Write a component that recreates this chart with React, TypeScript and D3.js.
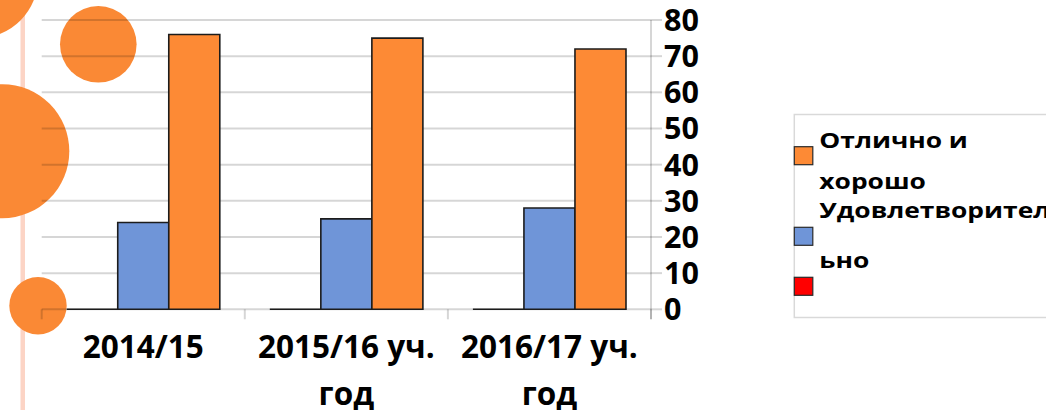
import React, { useEffect, useRef } from 'react'
import * as d3 from 'd3'

// chart data
const categories = ['2014/15', '2015/16 уч.\nгод', '2016/17 уч.\nгод']
const seriesNames = ['', 'Удовлетворител\nьно', 'Отлично и\nхорошо']
const seriesColors = ['#ff0000', '#6f95d8', '#fd8a35']
const redValues = [0, 0, 0]
const blueValues = [24, 25, 28]
const orangeValues = [76, 75, 72]
const yTicks = [0, 10, 20, 30, 40, 50, 60, 70, 80]

const W = 1046
const H = 410
const FONT = '"Open Sans", "Liberation Sans", sans-serif'

const App: React.FC = () => {
  const svgRef = useRef<SVGSVGElement>(null)

  useEffect(() => {
    if (!svgRef.current) return
    const svg = d3.select(svgRef.current)
    svg.selectAll('*').remove()

    const plot = { left: 41.7, right: 651, top: 20, bottom: 309.3 }
    const values = [redValues, blueValues, orangeValues]

    const x0 = d3.scaleBand<number>()
      .domain(d3.range(categories.length))
      .range([plot.left, plot.right])
      .padding(0)
    const x1 = d3.scaleBand<number>()
      .domain(d3.range(values.length))
      .range([0, x0.bandwidth()])
      .paddingInner(0)
      .paddingOuter(0.49)
    const y = d3.scaleLinear().domain([0, 80]).range([plot.bottom, plot.top])

    // slide decorations
    svg.append('rect')
      .attr('x', 20.5).attr('y', 0)
      .attr('width', 4.5).attr('height', H)
      .attr('fill', '#fcd4c5')

    const circles = [
      { cx: -22, cy: -22, r: 60 },
      { cx: 98.3, cy: 44.3, r: 38.3 },
      { cx: 2.3, cy: 151.2, r: 67 },
      { cx: 38, cy: 305.8, r: 28.7 }
    ]
    svg.selectAll('.deco')
      .data(circles)
      .enter()
      .append('circle')
      .attr('class', 'deco')
      .attr('cx', d => d.cx)
      .attr('cy', d => d.cy)
      .attr('r', d => d.r)
      .attr('fill', '#fa8935')

    // gridlines
    svg.selectAll('.grid')
      .data(yTicks)
      .enter()
      .append('line')
      .attr('class', 'grid')
      .attr('x1', plot.left)
      .attr('x2', plot.right)
      .attr('y1', d => y(d))
      .attr('y2', d => y(d))
      .attr('stroke', 'rgba(0,0,0,0.16)')
      .attr('stroke-width', 2)

    // right axis
    svg.append('line')
      .attr('x1', plot.right).attr('x2', plot.right)
      .attr('y1', y(80)).attr('y2', y(0) + 10)
      .attr('stroke', 'rgba(0,0,0,0.16)')
      .attr('stroke-width', 2)

    svg.selectAll('.ytick')
      .data(yTicks)
      .enter()
      .append('line')
      .attr('class', 'ytick')
      .attr('x1', plot.right)
      .attr('x2', plot.right + 11)
      .attr('y1', d => y(d))
      .attr('y2', d => y(d))
      .attr('stroke', 'rgba(0,0,0,0.16)')
      .attr('stroke-width', 2)

    svg.selectAll('.ylabel')
      .data(yTicks)
      .enter()
      .append('text')
      .attr('class', 'ylabel')
      .attr('x', plot.right + 13)
      .attr('y', d => y(d) + 11)
      .attr('font-family', FONT)
      .attr('font-weight', 700)
      .attr('font-size', 30.5)
      .attr('fill', '#000')
      .text(d => d)

    // category ticks
    const bounds = d3.range(categories.length + 1).map(i => plot.left + i * x0.step())
    svg.selectAll('.xtick')
      .data(bounds)
      .enter()
      .append('line')
      .attr('class', 'xtick')
      .attr('x1', d => d).attr('x2', d => d)
      .attr('y1', plot.bottom).attr('y2', plot.bottom + 10)
      .attr('stroke', 'rgba(0,0,0,0.16)')
      .attr('stroke-width', 2)

    // bars
    values.forEach((vals, s) => {
      vals.forEach((v, i) => {
        const bx = (x0(i) ?? 0) + (x1(s) ?? 0)
        const bw = x1.bandwidth()
        const p = d3.path()
        p.moveTo(bx, y(0))
        p.lineTo(bx, y(v))
        p.lineTo(bx + bw, y(v))
        p.lineTo(bx + bw, y(0))
        if (v > 0) p.closePath()
        else p.lineTo(bx, y(0))
        svg.append('path')
          .attr('d', p.toString())
          .attr('fill', seriesColors[s])
          .attr('stroke', '#1c1c1c')
          .attr('stroke-width', 1.6)
      })
    })

    // category labels
    categories.forEach((c, i) => {
      const cx = (x0(i) ?? 0) + x0.bandwidth() / 2
      c.split('\n').forEach((line, k) => {
        svg.append('text')
          .attr('x', cx)
          .attr('y', 358 + k * 47)
          .attr('text-anchor', 'middle')
          .attr('font-family', FONT)
          .attr('font-weight', 700)
          .attr('font-size', 31.5)
          .attr('fill', '#000')
          .text(line)
      })
    })

    // legend
    svg.append('rect')
      .attr('x', 794.3).attr('y', 114.5)
      .attr('width', 300).attr('height', 203)
      .attr('fill', 'none')
      .attr('stroke', '#d9d9d9')
      .attr('stroke-width', 1.5)

    const legendOrder = [2, 1, 0]
    const swatchY = [146.7, 227.3, 277.3]
    const textY = [147.7, 218]
    legendOrder.forEach((s, k) => {
      svg.append('rect')
        .attr('x', 794.3).attr('y', swatchY[k])
        .attr('width', 18.5).attr('height', 18)
        .attr('fill', seriesColors[s])
        .attr('stroke', '#2a2a2a')
        .attr('stroke-width', 1.2)
      if (!seriesNames[s]) return
      const lines = seriesNames[s].split('\n')
      lines.forEach((line, j) => {
        svg.append('text')
          .attr('transform', `translate(819.3,${textY[k] + j * (k === 0 ? 41.3 : 50)}) scale(1.2,1)`)
          .attr('font-family', FONT)
          .attr('font-weight', 700)
          .attr('font-size', 22)
          .attr('fill', '#000')
          .text(line)
      })
    })
  }, [])

  return (
    <svg
      ref={svgRef}
      width={W}
      height={H}
      style={{ position: 'absolute', left: 0, top: 0, background: '#fff' }}
    />
  )
}

export default App
